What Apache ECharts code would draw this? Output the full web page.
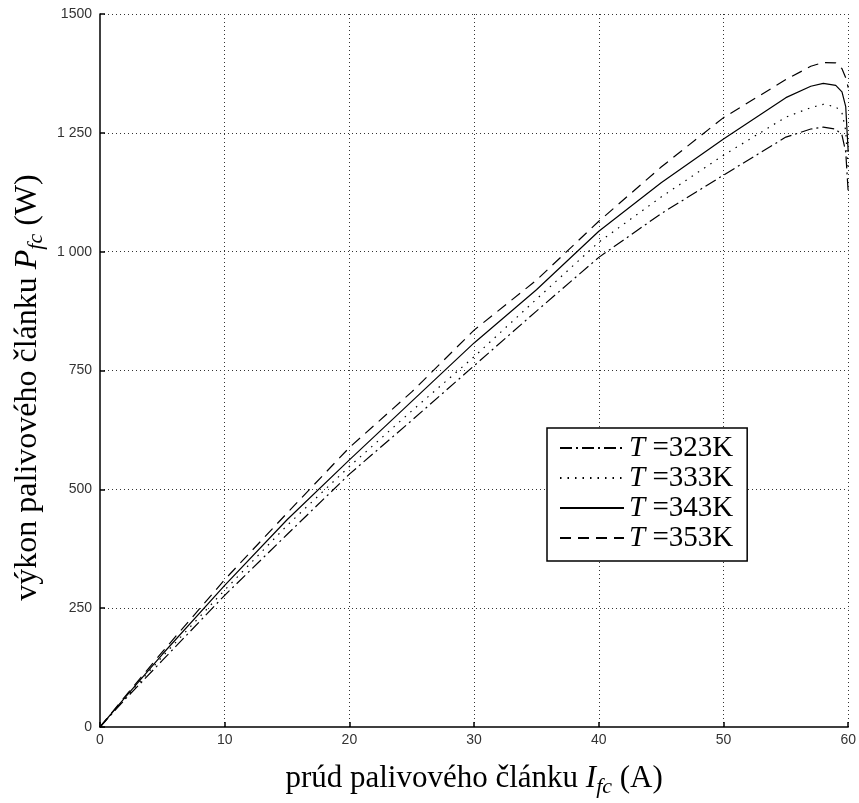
<!DOCTYPE html>
<html>
<head>
<meta charset="utf-8">
<script src="https://cdn.jsdelivr.net/npm/echarts@6/dist/echarts.min.js"></script>
<style>
html,body{margin:0;padding:0;background:#fff;}
#chart{width:859px;height:803px;}
</style>
</head>
<body>
<div id="chart"></div>
<script>
// Current of the fuel cell (A)
const currentA = [0, 2, 5, 10, 15, 20, 25, 30, 35, 40, 45, 50, 55, 57, 58, 59, 59.5, 59.8, 60];
// Power (W) for each temperature
const p323 = [0, 58, 140, 277, 405, 532, 645, 760, 875, 988, 1080, 1161, 1241, 1258, 1262, 1258, 1245, 1210, 1125];
const p333 = [0, 60, 148, 288, 424, 548, 665, 779, 900, 1020, 1115, 1203, 1283, 1303, 1310, 1305, 1292, 1255, 1170];
const p343 = [0, 62, 153, 298, 436, 562, 685, 808, 920, 1043, 1145, 1237, 1324, 1348, 1354, 1350, 1336, 1305, 1210];
const p353 = [0, 64, 158, 310, 450, 588, 705, 835, 940, 1064, 1178, 1282, 1362, 1390, 1398, 1397, 1385, 1366, 1345];
const seriesNames = ['323K', '333K', '343K', '353K'];
const xTicks = ['0', '10', '20', '30', '40', '50', '60'];
const yTicks = ['0', '250', '500', '750', '1 000', '1 250', '1500'];

const seriesValues = [p323, p333, p343, p353];
const dashTypes = [[12, 4, 2, 4], [1.5, 6], 'solid', [11, 7]];

const serif = 'Liberation Serif, Times New Roman, serif';
const sans = 'Liberation Sans, Arial, sans-serif';

function nameRich(fs) {
  return {
    i: {fontFamily: serif, fontStyle: 'italic', fontSize: fs, color: '#000', lineHeight: 36},
    s: {fontFamily: serif, fontStyle: 'italic', fontSize: Math.round(fs * 0.7), color: '#000', verticalAlign: 'top', padding: [15, 0, 0, 0], lineHeight: 36}
  };
}

const chart = echarts.init(document.getElementById('chart'), null, {renderer: 'canvas'});
const option = {
  animation: false,
  backgroundColor: '#fff',
  grid: {left: 100, top: 14, right: 9, bottom: 69},
  xAxis: {
    type: 'value', min: 0, max: 60, interval: 10,
    axisLine: {show: true, onZero: false, lineStyle: {color: '#000', width: 1.5}},
    axisTick: {show: true, inside: true, length: 5, lineStyle: {color: '#000', width: 1.5}},
    axisLabel: {margin: 6, color: '#333', fontFamily: sans, fontSize: 14,
      formatter: (v) => xTicks[Math.round(v / 10)]},
    splitLine: {show: true, showMinLine: false, showMaxLine: true, lineStyle: {type: [1, 3], color: '#333', width: 1}},
    name: 'prúd palivového článku {i|I}{s|fc} (A)',
    nameLocation: 'middle', nameGap: 34, nameMoveOverlap: false,
    nameTextStyle: {fontFamily: serif, fontSize: 31, color: '#000', lineHeight: 36, rich: nameRich(31)}
  },
  yAxis: {
    type: 'value', min: 0, max: 1500, interval: 250,
    axisLine: {show: true, onZero: false, lineStyle: {color: '#000', width: 1.5}},
    axisTick: {show: true, inside: true, length: 5, lineStyle: {color: '#000', width: 1.5}},
    axisLabel: {margin: 8, color: '#333', fontFamily: sans, fontSize: 14,
      formatter: (v) => yTicks[Math.round(v / 250)]},
    splitLine: {show: true, showMinLine: false, showMaxLine: true, lineStyle: {type: [1, 3], color: '#333', width: 1}},
    name: 'výkon palivového článku {i|P}{s|fc} (W)',
    nameLocation: 'middle', nameGap: 54, nameMoveOverlap: false,
    nameTextStyle: {fontFamily: serif, fontSize: 32, color: '#000', lineHeight: 36, padding: [0, 34, 0, 0], rich: nameRich(32)}
  },
  legend: {
    orient: 'vertical', left: 547, top: 428,
    backgroundColor: '#fff', borderColor: '#000', borderWidth: 1.5, borderRadius: 0,
    padding: [5, 14, 8, 12],
    itemWidth: 64, itemHeight: 14, itemGap: 0,
    data: seriesNames,
    itemStyle: {opacity: 0},
    formatter: (name) => '{i|T}{n| =' + name + '}',
    textStyle: {
      fontFamily: serif, fontSize: 29, color: '#000', lineHeight: 30,
      rich: {
        i: {fontFamily: serif, fontStyle: 'italic', fontSize: 29, color: '#000', lineHeight: 30},
        n: {fontFamily: serif, fontSize: 29, color: '#000', lineHeight: 30}
      }
    }
  },
  series: seriesNames.map((nm, k) => ({
    name: nm,
    type: 'line',
    symbol: 'none',
    smooth: false,
    data: currentA.map((x, i) => [x, seriesValues[k][i]]),
    lineStyle: {color: '#000', width: 1.2, type: dashTypes[k]},
    itemStyle: {color: '#000'}
  }))
};
chart.setOption(option);
</script>
</body>
</html>
